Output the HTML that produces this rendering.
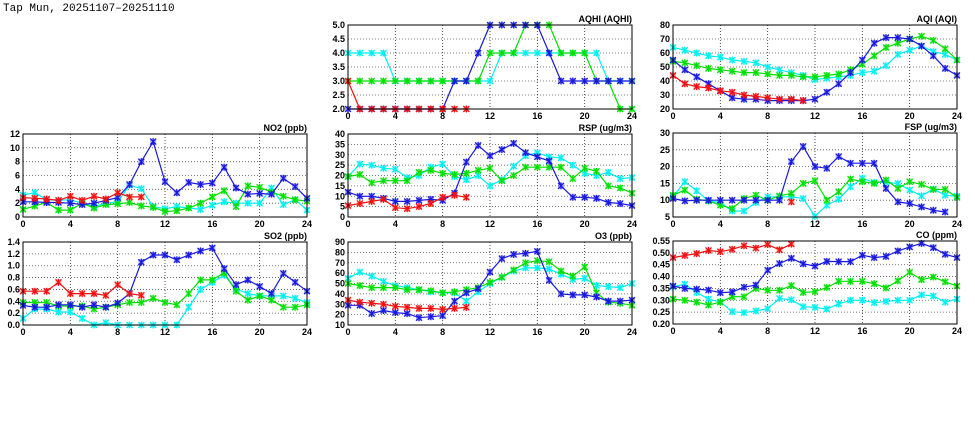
<!DOCTYPE html>
<html><head><meta charset="utf-8">
<style>
html,body{margin:0;padding:0;background:#fff;width:975px;height:447px;overflow:hidden}
svg{display:block}
text{font-family:"Liberation Sans",sans-serif;font-size:9px;font-weight:bold;fill:#000}
</style></head>
<body>
<svg id="s" width="975" height="447" xmlns="http://www.w3.org/2000/svg">
<text x="3" y="11" style="font-family:'Liberation Mono',monospace;font-size:11px;font-weight:normal">Tap Mun, 20251107–20251110</text>
</svg>
<script>
var N=null;
var panels=[
{t:"AQHI (AQHI)",x0:348,x1:632,y0:25,y1:109,min:2,max:5,step:0.5,dec:1,
 d:{c:[4,4,4,4,3,3,3,3,3,3,3,3,3,4,4,4,4,4,4,4,4,4,3,3,3],
    g:[3,3,3,3,3,3,3,3,3,3,3,3,4,4,4,5,5,5,4,4,4,3,3,2,2],
    b:[2,2,2,2,2,2,2,2,2,3,3,4,5,5,5,5,5,4,3,3,3,3,3,3,3],
    r:[3,2,2,2,2,2,2,2,2,2,2]}},
{t:"AQI (AQI)",x0:673,x1:957,y0:25,y1:109,min:20,max:80,step:10,dec:0,
 d:{c:[64,62,60,58,57,55,54,53,50,48,46,44,41,42,43,44,46,47,51,59,62,65,61,59,55],
    g:[54,53,51,49,48,47,46,46,45,44,44,43,43,44,45,48,52,58,64,67,70,72,69,63,55],
    b:[55,48,43,38,33,28,27,27,26,26,26,26,27,32,38,46,55,67,71,71,70,65,58,49,44],
    r:[44,38,36,35,33,32,30,29,28,27,27,26]}},
{t:"NO2 (ppb)",x0:23,x1:307,y0:134,y1:217,min:0,max:12,step:2,dec:0,
 d:{c:[3.2,3.5,2.5,2.4,2.5,2,1.5,2,2.2,4.6,4.1,1.5,1.2,1.5,1.3,1.1,1.7,2.2,2,2,2,4.2,1.8,2.5,1],
    g:[1.1,1.6,2.1,1,1,2,1.3,1.8,1.9,2.1,1.6,1.4,0.8,0.9,1.3,2,2.9,3.8,1.5,4.5,4.3,3.6,3,2.5,2.3],
    b:[2.2,2.2,2.1,2.1,2,1.8,2,2.4,2.8,4.7,8,10.9,5.1,3.5,5,4.7,4.9,7.2,4.2,3.3,3.4,3.3,5.6,4.4,2.7],
    r:[2.8,2.7,2.6,2.4,3,2.4,3,2.6,3.5,2.9,2.9]}},
{t:"RSP (ug/m3)",x0:348,x1:632,y0:134,y1:217,min:0,max:40,step:5,dec:0,
 d:{c:[19.5,25.5,25,23.5,23,19,20,24,25.5,19.5,18,20,15,18,24.5,29.5,31,29,28.5,25,21,20,21.5,18.5,19],
    g:[19.5,20.5,16.5,17.5,17.5,17.5,21.5,22.5,21,20.5,21,22.5,23.5,17.5,20,24,24,24,24,18.5,23.5,22,15,14,11.5],
    b:[12,10,10,9,7.5,7.5,8,8.5,8,11.5,26.5,34.5,29.5,32.5,35.5,31,29,27,15,9.5,9.5,9,7,6.5,5.5],
    r:[5.5,6.5,7.5,8.5,4.5,4,5,6.5,9.5,10.5,9.5]}},
{t:"FSP (ug/m3)",x0:673,x1:957,y0:133,y1:217,min:5,max:30,step:5,dec:0,
 d:{c:[11,15.5,12.8,9.8,9.3,6.8,6.8,9.3,11,11,11,10.5,5.2,8.5,10.3,14,16.5,15.3,15.3,15,13,11.3,13.3,11.5,11.2],
    g:[11.5,13,10.3,9.8,8.5,7.5,10.5,11.5,10,11.3,12,15,15.8,10,12.5,16.3,15.5,15,16,13.5,15.5,14.7,13.2,13.2,10.8],
    b:[10.5,9.8,10,10,10,10,10,10,10,10,21.5,26,20,19.5,23,21,21,21,13.5,9.5,9,8,7,6.5,N],
    r:[N,N,N,N,N,N,N,N,N,N,9.5]}},
{t:"SO2 (ppb)",x0:23,x1:307,y0:242,y1:325,min:0,max:1.4,step:0.2,dec:1,
 d:{c:[0.11,0.27,0.27,0.22,0.22,0.11,0,0.04,0,0,0,0,0,0,0.3,0.6,0.72,0.84,0.61,0.53,0.49,0.49,0.49,0.45,0.38],
    g:[0.38,0.38,0.38,0.32,0.32,0.32,0.27,0.3,0.34,0.38,0.38,0.45,0.38,0.34,0.53,0.76,0.76,0.88,0.57,0.42,0.49,0.42,0.3,0.3,0.34],
    b:[0.33,0.3,0.3,0.34,0.34,0.3,0.34,0.3,0.37,0.53,1.06,1.18,1.18,1.1,1.18,1.25,1.3,0.95,0.68,0.76,0.65,0.53,0.87,0.72,0.57],
    r:[0.57,0.57,0.57,0.72,0.53,0.53,0.53,0.5,0.68,0.53,0.5]}},
{t:"O3 (ppb)",x0:348,x1:632,y0:242,y1:325,min:10,max:90,step:10,dec:0,
 d:{c:[55,61,57,52,48,46,44,42,41,41,33,42,50,56,62,65,65,64,59,54,55,48,47,46,50],
    g:[50,48,46,46,46,44,44,43,41,42,44,46,51,56,63,70,72,71,62,57,66,41,32,31,29],
    b:[29,29,21,24,22,21,17,18,19,33,41,45,61,74,78,79,81,53,40,39,39,37,33,33,34],
    r:[34,32,31,30,28,27,26,26,25,26,27]}},
{t:"CO (ppm)",x0:673,x1:957,y0:241,y1:324,min:0.2,max:0.55,step:0.05,dec:2,
 d:{c:[0.357,0.368,0.333,0.305,0.293,0.252,0.248,0.255,0.265,0.308,0.302,0.273,0.27,0.263,0.285,0.3,0.3,0.29,0.295,0.3,0.3,0.323,0.318,0.292,0.305],
    g:[0.305,0.3,0.292,0.28,0.292,0.315,0.315,0.35,0.342,0.342,0.362,0.333,0.336,0.354,0.38,0.38,0.38,0.37,0.352,0.382,0.418,0.387,0.398,0.378,0.36],
    b:[0.36,0.35,0.347,0.343,0.332,0.335,0.355,0.364,0.427,0.455,0.477,0.454,0.444,0.464,0.463,0.463,0.49,0.48,0.485,0.508,0.525,0.54,0.522,0.494,0.48],
    r:[0.48,0.489,0.497,0.51,0.505,0.515,0.53,0.52,0.535,0.513,0.537]}}
];
var col={c:"#00f0f0",g:"#00e000",b:"#1818e0",r:"#f01010"};
var h="";
panels.forEach(function(p){
  var W=p.x1-p.x0,H=p.y1-p.y0;
  function X(i){return p.x0+W*i/24}
  function Y(v){return p.y1-H*(v-p.min)/(p.max-p.min)}
  var n=Math.round((p.max-p.min)/p.step);
  for(var k=0;k<=n;k++){var v=p.min+k*p.step,y=Y(v);
    if(k>0&&k<n)h+='<line x1="'+p.x0+'" x2="'+p.x1+'" y1="'+y+'" y2="'+y+'" stroke="#555" stroke-width="0.8" stroke-dasharray="1,2"/>';
    h+='<text x="'+(p.x0-3)+'" y="'+(y+3)+'" text-anchor="end">'+v.toFixed(p.dec)+'</text>';}
  for(var i=0;i<=24;i+=4){var x=X(i);
    if(i>0&&i<24)h+='<line x1="'+x+'" x2="'+x+'" y1="'+p.y0+'" y2="'+p.y1+'" stroke="#222" stroke-width="0.8" stroke-dasharray="1,2"/>';
    h+='<text x="'+x+'" y="'+(p.y1+10)+'" text-anchor="middle">'+i+'</text>';}
  h+='<text x="'+p.x1+'" y="'+(p.y0-3)+'" text-anchor="end">'+p.t+'</text>';
  ["c","g","b","r"].forEach(function(s){
    var a=p.d[s],pts=[],segs=[];
    a.forEach(function(v,i){if(v===N){if(pts.length)segs.push(pts);pts=[];}else pts.push([X(i),Y(v)]);});
    if(pts.length)segs.push(pts);
    segs.forEach(function(sg){h+='<polyline fill="none" stroke="'+col[s]+'" stroke-width="1.2" points="'+sg.map(function(q){return q[0].toFixed(1)+','+q[1].toFixed(1)}).join(' ')+'"/>';
      sg.forEach(function(q){var x=q[0],y=q[1];
        h+='<rect x="'+(x-3)+'" y="'+(y-3)+'" width="6" height="6" fill="'+col[s]+'" opacity="0.35"/>';
        h+='<path d="M'+(x-3)+' '+(y-3)+'L'+(x+3)+' '+(y+3)+'M'+(x-3)+' '+(y+3)+'L'+(x+3)+' '+(y-3)+'M'+x+' '+(y-3.5)+'V'+(y+3.5)+'" stroke="'+col[s]+'" stroke-width="1.2"/>';});
    });
  });
  h+='<rect x="'+p.x0+'" y="'+p.y0+'" width="'+W+'" height="'+H+'" fill="none" stroke="#000" stroke-width="1"/>';
});
document.getElementById("s").insertAdjacentHTML("beforeend",h);
</script>
</body></html>
